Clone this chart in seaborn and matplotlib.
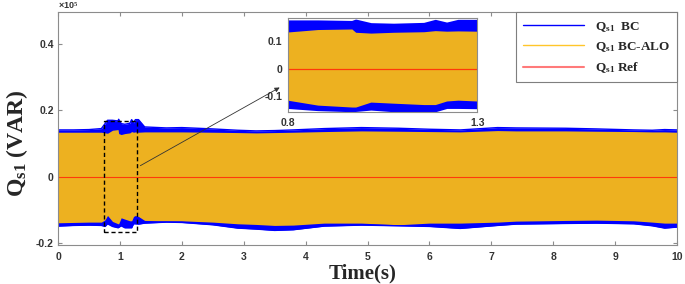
import numpy as np
import pandas as pd
import matplotlib
matplotlib.use("Agg")
import matplotlib.pyplot as plt
import seaborn as sns
from matplotlib.patches import Rectangle
from matplotlib.lines import Line2D

# ---------------- data (values in units of 1e5 VAR) ----------------
time_s = [0, 0.25, 0.5, 0.7, 0.76, 0.8, 0.88, 0.97, 0.98, 1.02, 1.08, 1.16, 1.19, 1.22,
          1.25, 1.3, 1.4, 1.75, 2.0, 2.5, 2.9, 3.2, 3.5, 3.8, 4.3, 4.9, 5.5, 6.0, 6.5,
          7.1, 7.4, 8.2, 8.7, 9.3, 9.6, 9.8, 10]
bc_upper = [0.141, 0.141, 0.142, 0.145, 0.160, 0.170, 0.170, 0.168, 0.173, 0.160, 0.158,
            0.161, 0.172, 0.162, 0.172, 0.172, 0.150, 0.147, 0.148, 0.144, 0.140, 0.138,
            0.139, 0.141, 0.145, 0.148, 0.146, 0.143, 0.141, 0.148, 0.147, 0.146, 0.144,
            0.141, 0.140, 0.142, 0.141]
bc_lower = [-0.149, -0.147, -0.146, -0.147, -0.150, -0.142, -0.150, -0.154, -0.153, -0.148,
            -0.154, -0.154, -0.154, -0.142, -0.142, -0.143, -0.140, -0.137, -0.138, -0.145,
            -0.155, -0.158, -0.162, -0.160, -0.149, -0.146, -0.148, -0.150, -0.156, -0.147,
            -0.143, -0.141, -0.140, -0.142, -0.148, -0.155, -0.152]
alo_upper = [0.134, 0.134, 0.134, 0.134, 0.132, 0.131, 0.140, 0.142, 0.130, 0.127, 0.130,
             0.132, 0.136, 0.134, 0.135, 0.134, 0.135, 0.135, 0.135, 0.134, 0.133, 0.132,
             0.133, 0.134, 0.136, 0.138, 0.137, 0.136, 0.135, 0.139, 0.138, 0.138, 0.137,
             0.136, 0.135, 0.135, 0.134]
alo_lower = [-0.139, -0.138, -0.137, -0.137, -0.130, -0.117, -0.135, -0.142, -0.142, -0.124,
             -0.128, -0.133, -0.133, -0.120, -0.117, -0.120, -0.132, -0.133, -0.133, -0.137,
             -0.142, -0.144, -0.147, -0.146, -0.140, -0.140, -0.145, -0.140, -0.140, -0.137,
             -0.134, -0.132, -0.131, -0.133, -0.137, -0.140, -0.140]
ref_time = [0, 10]
ref_value = [0, 0]

x_ticks = list(range(0, 11))
y_ticks = [-0.2, 0, 0.2, 0.4]
y_tick_labels = ["-0.2", "0", "0.2", "0.4"]
inset_x_ticks = [0.8, 1.3]
inset_x_labels = ["0.8", "1.3"]
inset_y_ticks = [-0.1, 0, 0.1]
inset_y_labels = ["-0.1", "0", "0.1"]
series_labels = ["Q$_{\\mathrm{s1}}$  BC", "Q$_{\\mathrm{s1}}$ BC-ALO", "Q$_{\\mathrm{s1}}$ Ref"]

# ---------------- style ----------------
sns.set_style("ticks")
plt.rcParams["font.family"] = ["Liberation Sans", "DejaVu Sans"]
plt.rcParams["mathtext.fontset"] = "custom"
plt.rcParams["mathtext.rm"] = "Liberation Serif:bold"
plt.rcParams["mathtext.it"] = "Liberation Serif:italic:bold"
plt.rcParams["mathtext.bf"] = "Liberation Serif:bold"

BLUE = "#0000FF"
ORANGE = "#EDB120"
RED = "#FF3A0A"
SPINE = "#8C8C8C"

df = pd.DataFrame({"time": time_s, "bc_upper": bc_upper, "bc_lower": bc_lower,
                   "alo_upper": alo_upper, "alo_lower": alo_lower})
ref = pd.DataFrame({"time": ref_time, "value": ref_value})

fig = plt.figure(figsize=(6.85, 2.84), dpi=100)
ax = fig.add_axes([0.0847, 0.1373, 0.9036, 0.8187])
axins = fig.add_axes([0.4204, 0.6039, 0.2766, 0.331])


def draw(a, edge_lw, ref_lw):
    a.fill_between(df["time"], df["bc_lower"], df["bc_upper"], color=BLUE, lw=0)
    for col in ["bc_upper", "bc_lower"]:
        sns.lineplot(data=df, x="time", y=col, ax=a, color=BLUE, lw=edge_lw,
                     estimator=None, legend=False)
    a.fill_between(df["time"], df["alo_lower"], df["alo_upper"], color=ORANGE, lw=0)
    sns.lineplot(data=ref, x="time", y="value", ax=a, color=RED, lw=ref_lw,
                 estimator=None, legend=False)
    a.set_xlabel("")
    a.set_ylabel("")
    for s in a.spines.values():
        s.set_visible(True)
        s.set_color(SPINE)
        s.set_linewidth(0.8)
    a.set_facecolor("white")


draw(ax, 1.0, 0.8)
ax.set_xlim(0, 10)
ax.set_ylim(-0.206, 0.495)
ax.set_xticks(x_ticks)
ax.set_xticklabels([str(v) for v in x_ticks])
ax.set_yticks(y_ticks)
ax.set_yticklabels(y_tick_labels)
ax.tick_params(direction="in", length=3, width=0.8, color=SPINE, top=True, right=True,
               labelsize=7.5, labelcolor="#333333", pad=3)
for lab in ax.get_xticklabels() + ax.get_yticklabels():
    lab.set_fontweight("bold")
ax.tick_params(axis="x", pad=5)

# dashed zoom box and arrow
ax.add_patch(Rectangle((0.75, -0.167), 0.53, 0.334, fill=False, ls=(0, (3, 2)),
                       lw=1.0, ec="black", zorder=5))
ax.annotate("", xy=(3.62, 0.273), xytext=(1.29, 0.029),
            arrowprops=dict(arrowstyle="-|>", color="#333333", lw=0.6,
                            mutation_scale=7), zorder=6)

# multiplier
ax.text(0.0, 1.005, "\u00d710$^{5}$", transform=ax.transAxes, ha="left", va="bottom",
        fontsize=6.5, color="#333333", fontweight="bold")

# inset
draw(axins, 2.0, 0.9)
axins.set_xlim(0.8, 1.3)
axins.set_ylim(-0.16, 0.182)
axins.set_xticks(inset_x_ticks)
axins.set_xticklabels(inset_x_labels)
axins.set_yticks(inset_y_ticks)
axins.set_yticklabels(inset_y_labels)
axins.tick_params(direction="in", length=0, labelsize=7.5, labelcolor="#333333", pad=4)
for lab in axins.get_xticklabels() + axins.get_yticklabels():
    lab.set_fontweight("bold")
axins.set_zorder(10)

# legend
handles = [Line2D([], [], color=BLUE, lw=1.0),
           Line2D([], [], color="#FFC62A", lw=1.0),
           Line2D([], [], color="#FF7A7A", lw=1.5)]
leg = ax.legend(handles, series_labels, loc="upper right", bbox_to_anchor=(1.0, 1.0),
                borderaxespad=0.0, fancybox=False, framealpha=1, edgecolor="#7F7F7F",
                prop={"family": "Liberation Serif", "weight": "bold", "size": 9.5},
                handlelength=4.6, handletextpad=0.8, labelspacing=0.5, borderpad=0.55)
leg.get_frame().set_linewidth(0.8)
leg.set_zorder(20)

# axis labels
fig.text(17 / 685, 1 - 143.5 / 284, "Q$_{\\mathrm{s1}}$ (VAR)", rotation=90, ha="center",
         va="center", family="Liberation Serif", fontweight="bold", fontsize=17)
fig.text(363 / 685, 1 - 273 / 284, "Time(s)", ha="center", va="center",
         family="Liberation Serif", fontweight="bold", fontsize=15)

fig.savefig("out.png", dpi=100)
